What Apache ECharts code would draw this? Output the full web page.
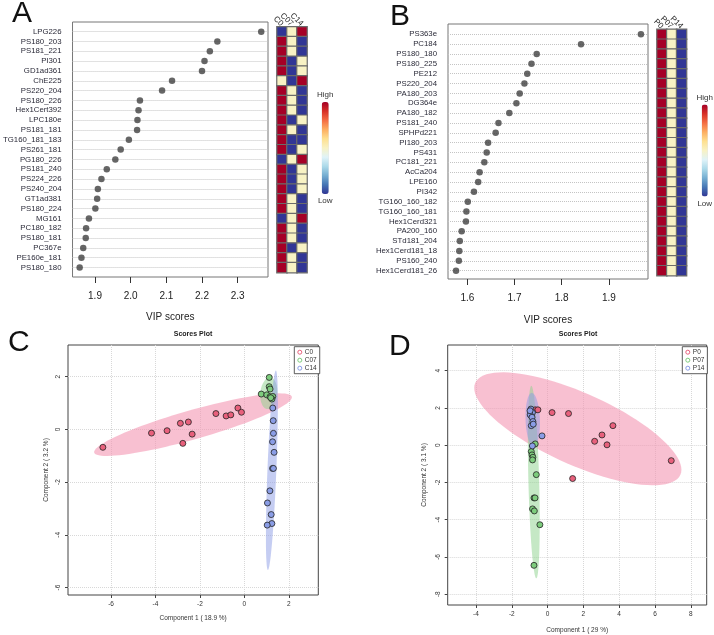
<!DOCTYPE html>
<html>
<head>
<meta charset="utf-8">
<script src="https://cdn.jsdelivr.net/npm/echarts@6/dist/echarts.min.js"></script>
<style>html,body{margin:0;padding:0;background:#fff}#main{width:714px;height:635px}</style>
</head>
<body>
<div id="main"></div>
<script>
// panel A: VIP scores, C groups
var namesA = ['LPG226', 'PS180_203', 'PS181_221', 'PI301', 'GD1ad361', 'ChE225', 'PS220_204', 'PS180_226',
    'Hex1Cert392', 'LPC180e', 'PS181_181', 'TG160_181_183', 'PS261_181', 'PG180_226', 'PS181_240', 'PS224_226',
    'PS240_204', 'GT1ad381', 'PS180_224', 'MG161', 'PC180_182', 'PS180_181', 'PC367e', 'PE160e_181', 'PS180_180'];
var vipA = [2.366, 2.243, 2.222, 2.207, 2.200, 2.116, 2.088, 2.026, 2.022, 2.019, 2.018, 1.995, 1.972, 1.957,
    1.933, 1.918, 1.908, 1.906, 1.901, 1.883, 1.875, 1.874, 1.867, 1.862, 1.857];
var groupsA = ['C0', 'C07', 'C14'];
// 1 = high, 0.5 = mid, 0 = low
var heatA = [
    [0, .5, 1], [1, .5, 0], [1, .5, 0], [1, 0, .5], [1, 0, .5], [.5, 0, 1], [1, .5, 0], [1, .5, 0], [1, .5, 0],
    [1, 0, .5], [1, .5, 0], [1, 0, 0], [1, 0, .5], [0, .5, 1], [1, 0, .5], [1, 0, .5], [1, 0, .5], [1, .5, 0],
    [1, .5, 0], [0, .5, 1], [1, .5, 0], [1, .5, 0], [1, 0, .5], [1, .5, 0], [1, .5, 0]
];
var ticksA = [1.9, 2.0, 2.1, 2.2, 2.3];

// panel B: VIP scores, P groups
var namesB = ['PS363e', 'PC184', 'PS180_180', 'PS180_225', 'PE212', 'PS220_204', 'PA180_203', 'DG364e',
    'PA180_182', 'PS181_240', 'SPHPd221', 'PI180_203', 'PS431', 'PC181_221', 'AcCa204', 'LPE160', 'PI342',
    'TG160_160_182', 'TG160_160_181', 'Hex1Cerd321', 'PA200_160', 'STd181_204', 'Hex1Cerd181_18', 'PS160_240',
    'Hex1Cerd181_26'];
var vipB = [1.968, 1.841, 1.747, 1.736, 1.727, 1.721, 1.711, 1.704, 1.689, 1.666, 1.660, 1.644, 1.641, 1.636,
    1.626, 1.623, 1.614, 1.601, 1.598, 1.597, 1.588, 1.584, 1.583, 1.582, 1.576];
var groupsB = ['P0', 'P07', 'P14'];
var heatB = namesB.map(function () { return [1, .5, 0]; });
var ticksB = [1.6, 1.7, 1.8, 1.9];

// panel C: scores plot
var c0 = [[-6.37, -0.68], [-4.18, -0.14], [-3.48, -0.05], [-2.88, 0.23], [-2.52, 0.28], [-2.35, -0.18],
    [-2.77, -0.53], [-1.28, 0.60], [-0.82, 0.51], [-0.61, 0.55], [-0.29, 0.81], [-0.13, 0.65]];
var c07 = [[1.12, 1.97], [1.12, 1.62], [1.16, 1.53], [0.76, 1.34], [1.01, 1.31], [1.16, 1.24], [1.28, 1.25],
    [1.24, 1.15], [1.19, 1.2]];
var c14 = [[1.28, 0.81], [1.30, 0.33], [1.31, -0.15], [1.27, -0.47], [1.34, -0.87], [1.27, -1.48], [1.31, -1.48],
    [1.15, -2.33], [1.04, -2.79], [1.21, -3.23], [1.24, -3.57], [1.03, -3.63]];
// ellipse: centre x, centre y, half axis u (x, y), half axis v (x, y)
var ellC = [[-2.31, 0.18, 4.45, 1.055, -0.13, 0.545], [1.10, 1.37, 0.05, 0.6, 0.38, 0], [1.24, -1.55, 0.18, 3.78, -0.2, 0.01]];
var ticksC = [-6, -4, -2, 0, 2];

// panel D: scores plot
var p0 = [[-0.69, 1.90], [-0.54, 1.90], [0.25, 1.75], [1.17, 1.70], [3.65, 1.05], [3.04, 0.55], [2.63, 0.21],
    [3.32, 0.02], [6.91, -0.83], [1.40, -1.79]];
var p07 = [[-0.69, 0.07], [-0.91, -0.34], [-0.87, -0.52], [-0.82, -0.65], [-0.84, -0.79], [-0.63, -1.58],
    [-0.76, -2.83], [-0.70, -2.83], [-0.84, -3.42], [-0.74, -3.53], [-0.43, -4.27], [-0.76, -6.45]];
var p14 = [[-0.93, 1.94], [-0.85, 1.75], [-0.97, 1.63], [-0.87, 1.5], [-0.82, 1.27], [-0.91, 1.05], [-0.8, 1.13],
    [-0.31, 0.50], [-0.85, -0.04], [-0.98, 1.85]];
var ellD = [[1.69, 0.88, 5.73, -2.47, -0.82, -1.76], [-0.77, -1.98, -0.14, 5.17, 0.3, 0.01], [-0.83, 1.36, -0.05, 1.45, 0.4, 0]];
var ticksDx = [-4, -2, 0, 2, 4, 6, 8];
var ticksDy = [-8, -6, -4, -2, 0, 2, 4];

var FONT = 'Liberation Sans, Arial, sans-serif';
var rdylbu = ['#313695', '#4575b4', '#74add1', '#abd9e9', '#e0f3f8', '#f8f2c4', '#fee090', '#fdae61', '#f46d43', '#d73027', '#a50026'];
var red = '#e8607c', green = '#7dcc7d', blue = '#8a9de6';

var chart = echarts.init(document.getElementById('main'));

function idx(list) { return list.map(function (d, i) { return i; }); }

function vipX(grid, min, max, ticks, gap) {
    return {
        type: 'value', gridIndex: grid, min: min, max: max,
        axisLine: { show: false, onZero: false }, splitLine: { show: false },
        axisTick: { show: true, length: 6, lineStyle: { color: '#333' }, customValues: ticks },
        axisLabel: { customValues: ticks, formatter: function (v) { return v.toFixed(1); }, fontSize: 10, color: '#222', margin: 14 },
        name: 'VIP scores', nameLocation: 'middle', nameGap: gap, nameTextStyle: { fontSize: 10, color: '#222' }
    };
}
function vipY(grid, min, max, names) {
    return {
        type: 'value', gridIndex: grid, min: min, max: max, inverse: true,
        axisLine: { show: false, onZero: false },
        axisTick: { show: false, customValues: idx(names) },
        axisLabel: { customValues: idx(names), formatter: function (v) { return names[Math.round(v)]; }, fontSize: 7.8, color: '#2a2a38', margin: 11 },
        splitLine: { show: true, lineStyle: { type: 'dotted', color: '#c4c4c4' } }
    };
}
function heatX(grid, groups) {
    return {
        type: 'category', gridIndex: grid, data: groups, position: 'top',
        axisLine: { show: false }, axisTick: { show: false }, splitLine: { show: false },
        axisLabel: { rotate: 45, fontSize: 8, color: '#222', margin: 2, interval: 0, padding: [0, 0, 0, 4] }
    };
}
function heatY(grid, names) {
    return { type: 'category', gridIndex: grid, data: names, inverse: true, show: false };
}
function heatData(rows) {
    var out = [];
    rows.forEach(function (r, i) { r.forEach(function (v, j) { out.push([j, i, v]); }); });
    return out;
}
function scoreX(grid, min, max, ticks, name, gap) {
    return {
        type: 'value', gridIndex: grid, min: min, max: max,
        axisLine: { show: false, onZero: false },
        axisTick: { show: true, length: 3, lineStyle: { color: '#444' }, customValues: ticks },
        axisLabel: { customValues: ticks, fontSize: 6.5, color: '#333', margin: 6 },
        splitLine: { show: true, lineStyle: { type: 'dotted', color: '#d8d8d8' } },
        name: name, nameLocation: 'middle', nameGap: gap, nameTextStyle: { fontSize: 6.5, color: '#333' }
    };
}
function scoreY(grid, min, max, ticks, name, gap) {
    return {
        type: 'value', gridIndex: grid, min: min, max: max,
        axisLine: { show: false, onZero: false },
        axisTick: { show: true, length: 3, lineStyle: { color: '#444' }, customValues: ticks },
        axisLabel: { customValues: ticks, fontSize: 6.5, color: '#333', margin: 6, rotate: 90 },
        splitLine: { show: true, lineStyle: { type: 'dotted', color: '#d8d8d8' } },
        name: name, nameLocation: 'middle', nameRotate: 90, nameGap: gap, nameTextStyle: { fontSize: 6.5, color: '#333' }
    };
}
function ellipse(name, ax, e, color) {
    return {
        type: 'custom', name: name, xAxisIndex: ax, yAxisIndex: ax, data: [e], encode: { x: 0, y: 1 }, silent: true, z: 1,
        renderItem: function (params, api) {
            var cx = api.value(0), cy = api.value(1), ux = api.value(2), uy = api.value(3), vx = api.value(4), vy = api.value(5);
            var pts = [];
            for (var k = 0; k < 90; k++) {
                var t = k / 90 * 2 * Math.PI;
                pts.push(api.coord([cx + Math.cos(t) * ux + Math.sin(t) * vx, cy + Math.cos(t) * uy + Math.sin(t) * vy]));
            }
            return { type: 'polygon', shape: { points: pts }, style: { fill: color } };
        }
    };
}
function points(name, ax, data, color) {
    return {
        type: 'scatter', name: name, xAxisIndex: ax, yAxisIndex: ax, data: data, symbolSize: 6, z: 3,
        itemStyle: { color: color, borderColor: '#222', borderWidth: 0.8, opacity: 1 }
    };
}
function legendItem(name, color) {
    return { name: name, icon: 'circle', itemStyle: { color: 'rgba(0,0,0,0)', borderColor: color, borderWidth: 1 } };
}
function letter(t, x, y) {
    return { text: t, left: x, top: y, padding: 0, textStyle: { fontSize: 30, fontWeight: 'normal', color: '#111', fontFamily: FONT } };
}
function plotTitle(x, y) {
    return { text: 'Scores Plot', left: x, top: y, textAlign: 'center', padding: 0, textStyle: { fontSize: 7, fontWeight: 'bold', color: '#222', fontFamily: FONT } };
}

var boxA = { show: true, borderColor: '#777', borderWidth: 1, backgroundColor: 'transparent' };
var boxC = { show: true, borderColor: '#444', borderWidth: 1, backgroundColor: 'transparent' };

var option = {
    animation: false,
    textStyle: { fontFamily: FONT },
    title: [letter('A', 12, -1), letter('B', 390, 2), letter('C', 8, 328), letter('D', 389, 332), plotTitle(193, 331), plotTitle(578, 331)],
    grid: [
        Object.assign({ left: 69, top: 22, width: 199, height: 255 }, boxA),
        { left: 277, top: 26.8, width: 30, height: 245.75 },
        Object.assign({ left: 448, top: 24, width: 200, height: 255 }, boxA),
        { left: 657, top: 29.4, width: 29.5, height: 246.2 },
        Object.assign({ left: 68, top: 345, width: 250.3, height: 250 }, boxC),
        Object.assign({ left: 447.7, top: 345, width: 259, height: 260 }, boxC)
    ],
    xAxis: [
        vipX(0, 1.837, 2.385, ticksA, 35),
        heatX(1, groupsA),
        vipX(2, 1.559, 1.983, ticksB, 36),
        heatX(3, groupsB),
        scoreX(4, -7.94, 3.33, ticksC, 'Component 1 ( 18.9 %)', 20),
        scoreX(5, -5.58, 8.89, ticksDx, 'Component 1 ( 29 %)', 22)
    ],
    yAxis: [
        vipY(0, -0.98, 24.96, namesA),
        heatY(1, namesA),
        vipY(2, -1.05, 24.85, namesB),
        heatY(3, namesB),
        scoreY(4, -6.28, 3.2, ticksC, 'Component 2 ( 3.2 %)', 18),
        scoreY(5, -8.58, 5.38, ticksDy, 'Component 2 ( 3.1 %)', 20)
    ],
    visualMap: [
        { type: 'continuous', seriesIndex: 1, min: 0, max: 1, calculable: false, orient: 'vertical', left: 317, top: 91, padding: 0,
          itemWidth: 7, itemHeight: 92, text: ['High', 'Low'], textGap: 3, textStyle: { fontSize: 8, color: '#333' }, inRange: { color: rdylbu } },
        { type: 'continuous', seriesIndex: 3, min: 0, max: 1, calculable: false, orient: 'vertical', left: 696.5, top: 93.5, padding: 0,
          itemWidth: 6, itemHeight: 92, text: ['High', 'Low'], textGap: 3, textStyle: { fontSize: 8, color: '#333' }, inRange: { color: rdylbu } }
    ],
    legend: [
        { data: [legendItem('C0', red), legendItem('C07', green), legendItem('C14', blue)], left: 294.3, top: 346.7, orient: 'vertical',
          itemWidth: 4, itemHeight: 4, itemGap: 1, padding: [2, 3, 2, 3], borderColor: '#333', borderWidth: 0.8, backgroundColor: '#fff',
          selectedMode: false, textStyle: { fontSize: 6.5, color: '#333', padding: [0, 0, 0, -2] } },
        { data: [legendItem('P0', red), legendItem('P07', green), legendItem('P14', blue)], left: 682.3, top: 346.7, orient: 'vertical',
          itemWidth: 4, itemHeight: 4, itemGap: 1, padding: [2, 3, 2, 3], borderColor: '#333', borderWidth: 0.8, backgroundColor: '#fff',
          selectedMode: false, textStyle: { fontSize: 6.5, color: '#333', padding: [0, 0, 0, -2] } }
    ],
    series: [
        { type: 'scatter', xAxisIndex: 0, yAxisIndex: 0, symbolSize: 6.5, itemStyle: { color: '#404040' },
          data: vipA.map(function (v, i) { return [v, i]; }) },
        { type: 'heatmap', xAxisIndex: 1, yAxisIndex: 1, data: heatData(heatA), itemStyle: { borderColor: '#6b6b6b', borderWidth: 1.2 } },
        { type: 'scatter', xAxisIndex: 2, yAxisIndex: 2, symbolSize: 6.5, itemStyle: { color: '#404040' },
          data: vipB.map(function (v, i) { return [v, i]; }) },
        { type: 'heatmap', xAxisIndex: 3, yAxisIndex: 3, data: heatData(heatB), itemStyle: { borderColor: '#6b6b6b', borderWidth: 1.2 } },
        ellipse('C0 ellipse', 4, ellC[0], 'rgba(244,150,178,0.6)'),
        ellipse('C07 ellipse', 4, ellC[1], 'rgba(140,210,140,0.5)'),
        ellipse('C14 ellipse', 4, ellC[2], 'rgba(140,155,230,0.5)'),
        points('C0', 4, c0, red),
        points('C07', 4, c07, green),
        points('C14', 4, c14, blue),
        ellipse('P0 ellipse', 5, ellD[0], 'rgba(244,150,178,0.6)'),
        ellipse('P07 ellipse', 5, ellD[1], 'rgba(140,210,140,0.5)'),
        ellipse('P14 ellipse', 5, ellD[2], 'rgba(140,155,230,0.5)'),
        points('P0', 5, p0, red),
        points('P07', 5, p07, green),
        points('P14', 5, p14, blue)
    ]
};

chart.setOption(option);
window.onresize = chart.resize;
</script>
</body>
</html>
